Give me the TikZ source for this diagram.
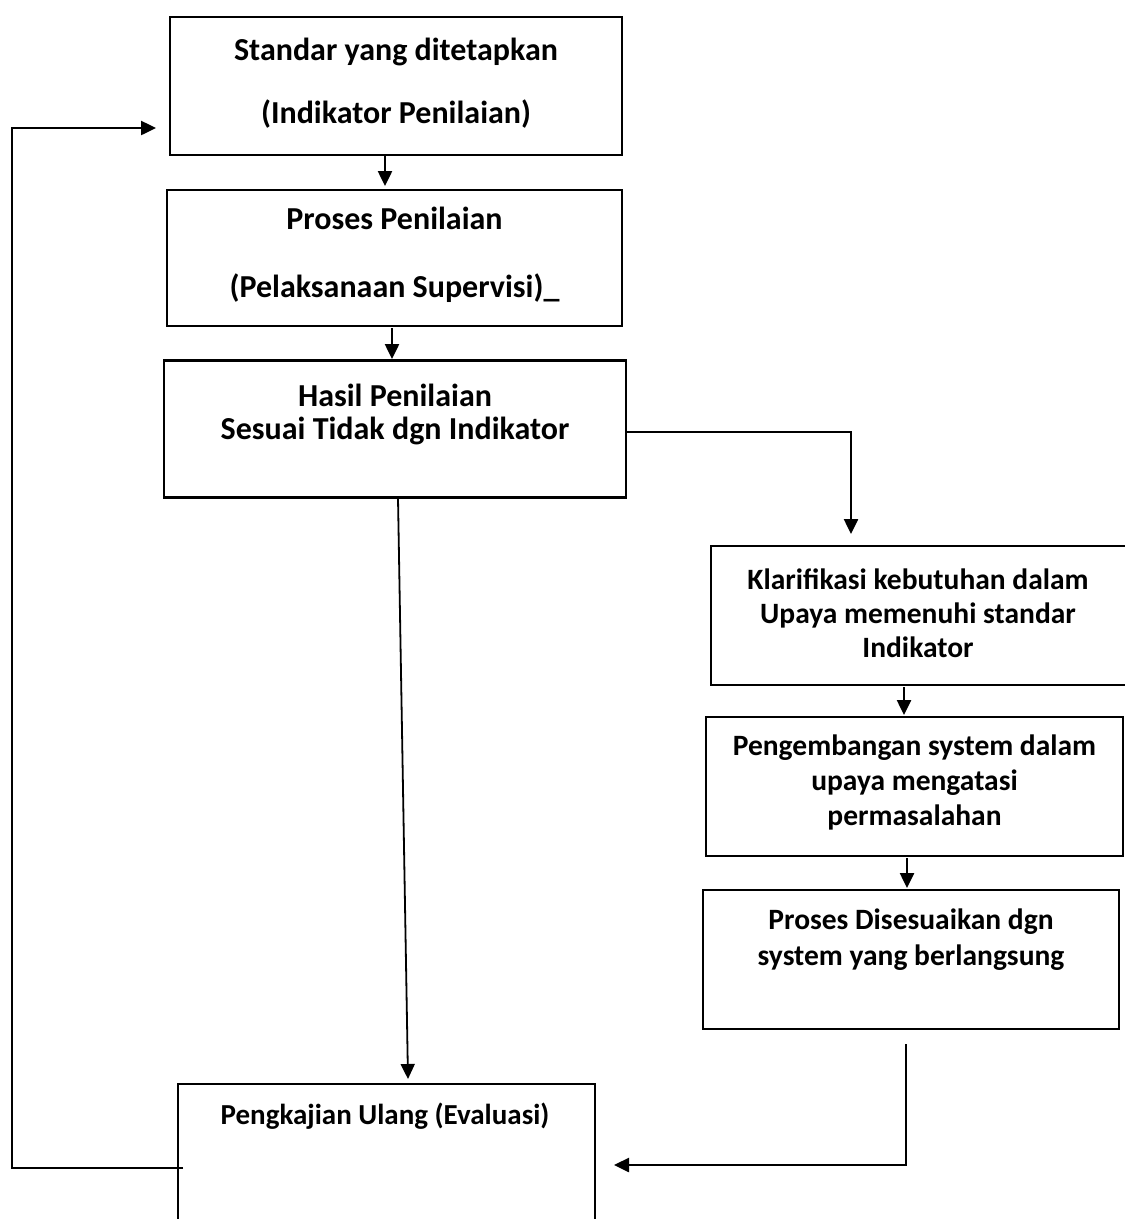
\documentclass[tikz,border=0pt]{standalone}
\usepackage{fontspec}
\setmainfont{Carlito}
\usetikzlibrary{arrows.meta}
\begin{document}
\begin{tikzpicture}[x=1pt,y=-1pt,
  box/.style={draw,line width=2.5pt,inner sep=0pt,outer sep=0pt},
  txt/.style={align=center,inner sep=0pt,font=\bfseries\fontsize{29.5}{34}\selectfont},
  conn/.style={line width=2.5pt,-{Triangle[length=15pt,width=14pt]}}]
\useasboundingbox (0,0) rectangle (1125,1219);
\fill[white] (0,0) rectangle (1125,1219);
\clip (0,0) rectangle (1125,1219);
% boxes
\node[box,minimum width=452pt,minimum height=138pt] (b1) at (396,86) {};
\node[box,minimum width=455pt,minimum height=136pt] (b2) at (394.5,258) {};
\node[box,minimum width=462pt,minimum height=137pt] (b3) at (395,429) {};
\node[box,minimum width=430pt,minimum height=139pt] (b4) at (926,615.5) {};
\node[box,minimum width=417pt,minimum height=139pt] (b5) at (914.5,786.5) {};
\node[box,minimum width=416pt,minimum height=139pt] (b6) at (911,959.5) {};
\node[box,line width=1.8pt,minimum width=417pt,minimum height=160pt] (b7) at (386.5,1164) {};
% texts
\node[txt,font=\bfseries\fontsize{32}{63}\selectfont] (t1) at (396,83) {Standar yang ditetapkan\\(Indikator Penilaian)};
\node[txt,font=\bfseries\fontsize{32}{68}\selectfont] (t2) at (394.5,255) {Proses Penilaian\\(Pelaksanaan Supervisi)\_};
\node[txt,font=\bfseries\fontsize{32}{33}\selectfont] (t3) at (395,414) {Hasil Penilaian\\Sesuai Tidak dgn Indikator};
\node[txt] (t4) at (918,613) {Klarifikasi kebutuhan dalam\\Upaya memenuhi standar\\Indikator};
\node[txt,font=\bfseries\fontsize{29.5}{35}\selectfont] (t5) at (914.5,782) {Pengembangan system dalam\\upaya mengatasi\\permasalahan};
\node[txt,font=\bfseries\fontsize{29.5}{36}\selectfont] (t6) at (911,940) {Proses Disesuaikan dgn\\system yang berlangsung};
\node[txt,font=\bfseries\fontsize{29}{30}\selectfont] (t7) at (385,1116) {Pengkajian Ulang (Evaluasi)};
% coordinates for free ends
\coordinate (a1s) at (385,155);
\coordinate (a1e) at (385,186);
\coordinate (a2s) at (392,328);
\coordinate (a2e) at (392,359);
\coordinate (a4s) at (904,687);
\coordinate (a4e) at (904,715);
\coordinate (a5s) at (907,858);
\coordinate (a5e) at (907,888);
\coordinate (r1) at (626,432);
\coordinate (r2) at (851,432);
\coordinate (r3) at (851,534);
\coordinate (d1) at (398,498);
\coordinate (d2) at (408,1079);
\coordinate (e1) at (906,1044);
\coordinate (e2) at (906,1165);
\coordinate (e3) at (614,1165);
\coordinate (f1) at (183,1168);
\coordinate (f2) at (12,1168);
\coordinate (f3) at (12,128);
\coordinate (f4) at (156,128);
% connectors
\draw[conn] (a1s) -- (a1e);
\draw[conn] (a2s) -- (a2e);
\draw[conn] (r1) -- (r2) -- (r3);
\draw[conn] (a4s) -- (a4e);
\draw[conn] (a5s) -- (a5e);
\draw[conn,line width=1.8pt] (d1) -- (d2);
\draw[conn] (e1) -- (e2) -- (e3);
\draw[conn] (f1) -- (f2) -- (f3) -- (f4);
\end{tikzpicture}
\end{document}
